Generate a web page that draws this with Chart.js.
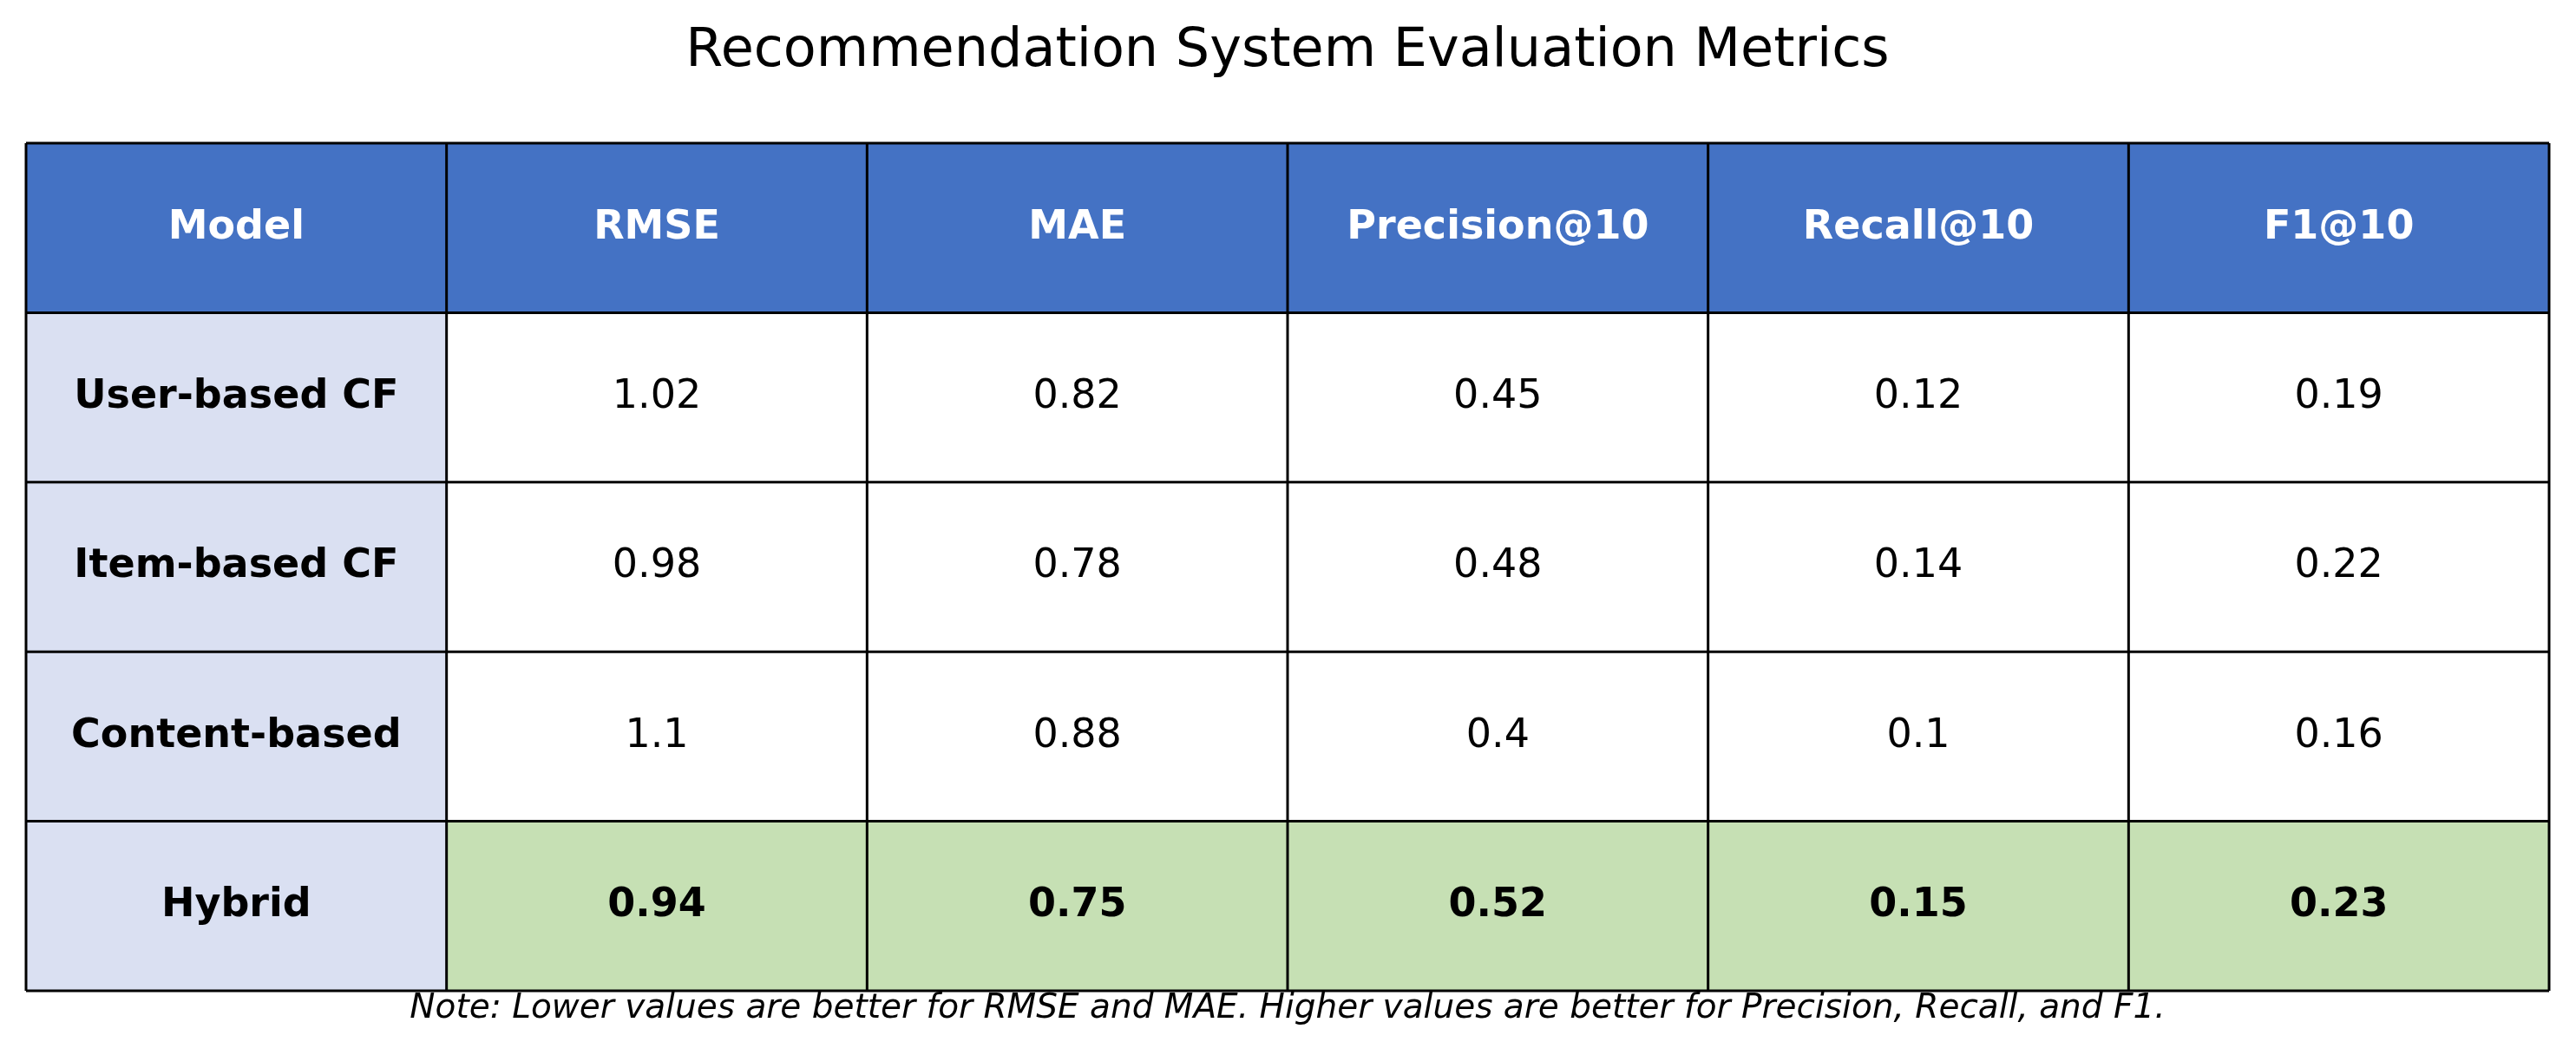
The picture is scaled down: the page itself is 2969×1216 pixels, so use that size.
<!DOCTYPE html>
<html><head><meta charset="utf-8">
<script src="https://cdn.jsdelivr.net/npm/chart.js@4"></script>
<style>html,body{margin:0;padding:0;background:#fff}#c{display:block}</style>
</head><body>
<div style="width:2969px;height:1216px"><canvas id="c"></canvas></div>
<script>
const title = "Recommendation System Evaluation Metrics";
const note = "Note: Lower values are better for RMSE and MAE. Higher values are better for Precision, Recall, and F1.";
const columns = ["Model","RMSE","MAE","Precision@10","Recall@10","F1@10"];
const models = ["User-based CF","Item-based CF","Content-based","Hybrid"];
const rmse = [1.02,0.98,1.1,0.94];
const mae = [0.82,0.78,0.88,0.75];
const precision = [0.45,0.48,0.4,0.52];
const recall = [0.12,0.14,0.1,0.15];
const f1 = [0.19,0.22,0.16,0.23];
const metrics = [rmse,mae,precision,recall,f1];
const bestRow = 3;
const FONT = "'DejaVu Sans'";

const tablePlugin = {
  id:'table',
  afterDraw(chart){
    const ctx = chart.ctx, xs = chart.scales.x, ys = chart.scales.y;
    const nR = models.length+1, nC = columns.length;
    const X = i=>xs.getPixelForValue(i), Y = j=>ys.getPixelForValue(j);
    ctx.save();
    for(let r=0;r<nR;r++){
      for(let c=0;c<nC;c++){
        let fill='#ffffff', txt, bold=false, color='#000';
        if(r===0){fill='#4472C4'; txt=columns[c]; bold=true; color='#fff';}
        else if(c===0){fill='#DAE0F2'; txt=models[r-1]; bold=true;}
        else {txt=String(metrics[c-1][r-1]); if(r-1===bestRow){fill='#C6E0B4'; bold=true;}}
        const x0=X(c),x1=X(c+1),y0=Y(r),y1=Y(r+1);
        ctx.fillStyle=fill; ctx.fillRect(x0,y0,x1-x0,y1-y0);
        ctx.fillStyle=color; ctx.textAlign='center'; ctx.textBaseline='middle';
        ctx.font=(bold?'bold ':'')+'46px '+FONT;
        ctx.fillText(txt,(x0+x1)/2,(y0+y1)/2);
      }
    }
    ctx.strokeStyle='#000'; ctx.lineWidth=3;
    for(let r=0;r<=nR;r++){ctx.beginPath();ctx.moveTo(X(0),Y(r));ctx.lineTo(X(nC),Y(r));ctx.stroke();}
    for(let c=0;c<=nC;c++){ctx.beginPath();ctx.moveTo(X(c),Y(0));ctx.lineTo(X(c),Y(nR));ctx.stroke();}
    ctx.fillStyle='#000'; ctx.textAlign='center'; ctx.textBaseline='middle';
    ctx.font='62px '+FONT; ctx.fillText(title,1484,60);
    ctx.font='italic 39px '+FONT; ctx.fillText(note,1484,1163);
    ctx.restore();
  }
};

new Chart(document.getElementById('c'),{
  type:'scatter',
  data:{datasets:[{data:[],pointRadius:0}]},
  options:{
    responsive:true,maintainAspectRatio:false,animation:false,devicePixelRatio:1,
    layout:{padding:{left:30,right:31,top:165,bottom:74}},
    plugins:{legend:{display:false},tooltip:{enabled:false},title:{display:false}},
    scales:{
      x:{type:'linear',min:0,max:columns.length,display:false},
      y:{type:'linear',min:0,max:models.length+1,reverse:true,display:false}
    }
  },
  plugins:[tablePlugin]
});
</script>
</body></html>
